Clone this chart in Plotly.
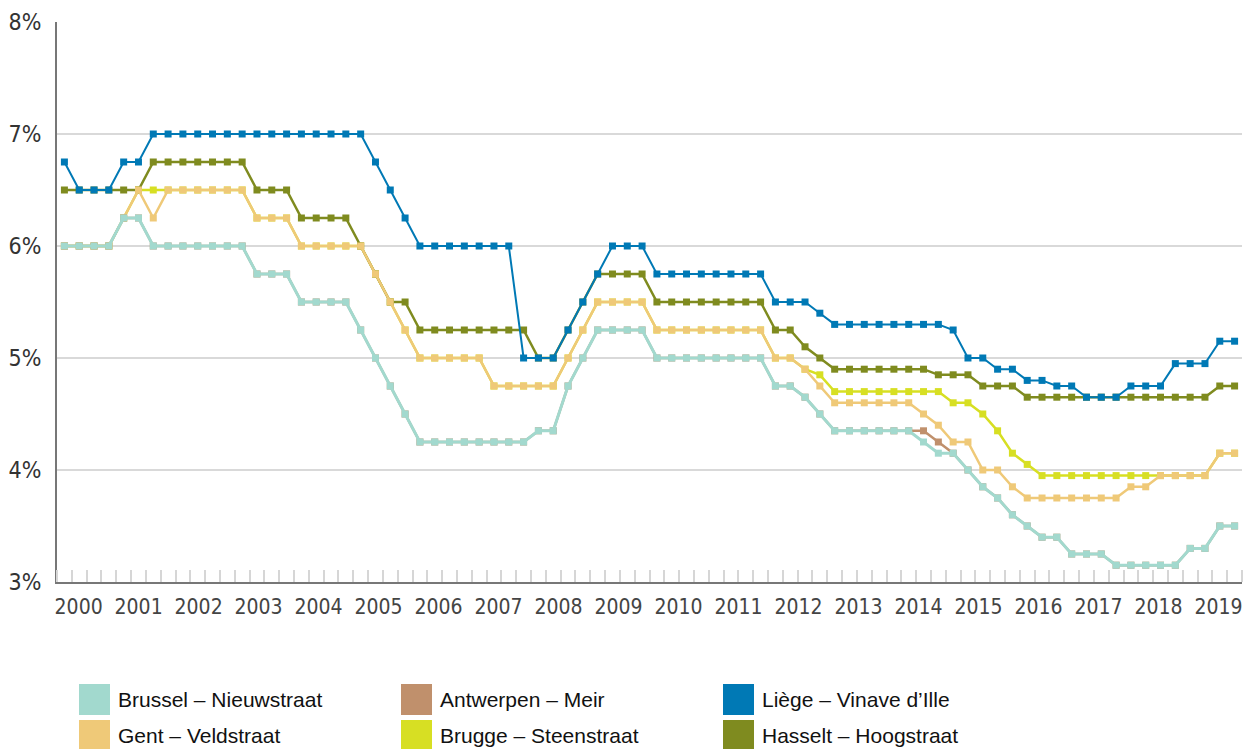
import plotly.graph_objects as go

# quarterly rents yield, 2000Q1 - 2019Q4
years = list(range(2000, 2020))
quarters = [y + q / 4 for y in years for q in range(4)]

brussel = [6.0, 6.0, 6.0, 6.0,  6.25, 6.25, 6.0, 6.0,  6.0, 6.0, 6.0, 6.0,  6.0, 5.75, 5.75, 5.75,
           5.5, 5.5, 5.5, 5.5,  5.25, 5.0, 4.75, 4.5,  4.25, 4.25, 4.25, 4.25,  4.25, 4.25, 4.25, 4.25,
           4.35, 4.35, 4.75, 5.0,  5.25, 5.25, 5.25, 5.25,  5.0, 5.0, 5.0, 5.0,  5.0, 5.0, 5.0, 5.0,
           4.75, 4.75, 4.65, 4.5,  4.35, 4.35, 4.35, 4.35,  4.35, 4.35, 4.25, 4.15,  4.15, 4.0, 3.85, 3.75,
           3.6, 3.5, 3.4, 3.4,  3.25, 3.25, 3.25, 3.15,  3.15, 3.15, 3.15, 3.15,  3.3, 3.3, 3.5, 3.5]

antwerpen = [6.0, 6.0, 6.0, 6.0,  6.25, 6.25, 6.0, 6.0,  6.0, 6.0, 6.0, 6.0,  6.0, 5.75, 5.75, 5.75,
             5.5, 5.5, 5.5, 5.5,  5.25, 5.0, 4.75, 4.5,  4.25, 4.25, 4.25, 4.25,  4.25, 4.25, 4.25, 4.25,
             4.35, 4.35, 4.75, 5.0,  5.25, 5.25, 5.25, 5.25,  5.0, 5.0, 5.0, 5.0,  5.0, 5.0, 5.0, 5.0,
             4.75, 4.75, 4.65, 4.5,  4.35, 4.35, 4.35, 4.35,  4.35, 4.35, 4.35, 4.25,  4.15, 4.0, 3.85, 3.75,
             3.6, 3.5, 3.4, 3.4,  3.25, 3.25, 3.25, 3.15,  3.15, 3.15, 3.15, 3.15,  3.3, 3.3, 3.5, 3.5]

liege = [6.75, 6.5, 6.5, 6.5,  6.75, 6.75, 7.0, 7.0,  7.0, 7.0, 7.0, 7.0,  7.0, 7.0, 7.0, 7.0,
         7.0, 7.0, 7.0, 7.0,  7.0, 6.75, 6.5, 6.25,  6.0, 6.0, 6.0, 6.0,  6.0, 6.0, 6.0, 5.0,
         5.0, 5.0, 5.25, 5.5,  5.75, 6.0, 6.0, 6.0,  5.75, 5.75, 5.75, 5.75,  5.75, 5.75, 5.75, 5.75,
         5.5, 5.5, 5.5, 5.4,  5.3, 5.3, 5.3, 5.3,  5.3, 5.3, 5.3, 5.3,  5.25, 5.0, 5.0, 4.9,
         4.9, 4.8, 4.8, 4.75,  4.75, 4.65, 4.65, 4.65,  4.75, 4.75, 4.75, 4.95,  4.95, 4.95, 5.15, 5.15]

gent = [6.0, 6.0, 6.0, 6.0,  6.25, 6.5, 6.25, 6.5,  6.5, 6.5, 6.5, 6.5,  6.5, 6.25, 6.25, 6.25,
        6.0, 6.0, 6.0, 6.0,  6.0, 5.75, 5.5, 5.25,  5.0, 5.0, 5.0, 5.0,  5.0, 4.75, 4.75, 4.75,
        4.75, 4.75, 5.0, 5.25,  5.5, 5.5, 5.5, 5.5,  5.25, 5.25, 5.25, 5.25,  5.25, 5.25, 5.25, 5.25,
        5.0, 5.0, 4.9, 4.75,  4.6, 4.6, 4.6, 4.6,  4.6, 4.6, 4.5, 4.4,  4.25, 4.25, 4.0, 4.0,
        3.85, 3.75, 3.75, 3.75,  3.75, 3.75, 3.75, 3.75,  3.85, 3.85, 3.95, 3.95,  3.95, 3.95, 4.15, 4.15]

brugge = [6.0, 6.0, 6.0, 6.0,  6.25, 6.5, 6.5, 6.5,  6.5, 6.5, 6.5, 6.5,  6.5, 6.25, 6.25, 6.25,
          6.0, 6.0, 6.0, 6.0,  6.0, 5.75, 5.5, 5.25,  5.0, 5.0, 5.0, 5.0,  5.0, 4.75, 4.75, 4.75,
          4.75, 4.75, 5.0, 5.25,  5.5, 5.5, 5.5, 5.5,  5.25, 5.25, 5.25, 5.25,  5.25, 5.25, 5.25, 5.25,
          5.0, 5.0, 4.9, 4.85,  4.7, 4.7, 4.7, 4.7,  4.7, 4.7, 4.7, 4.7,  4.6, 4.6, 4.5, 4.35,
          4.15, 4.05, 3.95, 3.95,  3.95, 3.95, 3.95, 3.95,  3.95, 3.95, 3.95, 3.95,  3.95, 3.95, 4.15, 4.15]

hasselt = [6.5, 6.5, 6.5, 6.5,  6.5, 6.5, 6.75, 6.75,  6.75, 6.75, 6.75, 6.75,  6.75, 6.5, 6.5, 6.5,
           6.25, 6.25, 6.25, 6.25,  6.0, 5.75, 5.5, 5.5,  5.25, 5.25, 5.25, 5.25,  5.25, 5.25, 5.25, 5.25,
           5.0, 5.0, 5.25, 5.5,  5.75, 5.75, 5.75, 5.75,  5.5, 5.5, 5.5, 5.5,  5.5, 5.5, 5.5, 5.5,
           5.25, 5.25, 5.1, 5.0,  4.9, 4.9, 4.9, 4.9,  4.9, 4.9, 4.9, 4.85,  4.85, 4.85, 4.75, 4.75,
           4.75, 4.65, 4.65, 4.65,  4.65, 4.65, 4.65, 4.65,  4.65, 4.65, 4.65, 4.65,  4.65, 4.65, 4.75, 4.75]

y_ticks = [3, 4, 5, 6, 7, 8]
y_labels = ["3%", "4%", "5%", "6%", "7%", "8%"]

# name, values, colour, line width (drawn bottom to top)
series = [
    ("Brugge – Steenstraat", brugge, "#d7df23", 2.5),
    ("Hasselt – Hoogstraat", hasselt, "#7f8b1f", 2.5),
    ("Gent – Veldstraat", gent, "#efc978", 2.5),
    ("Antwerpen – Meir", antwerpen, "#c0906c", 2.5),
    ("Brussel – Nieuwstraat", brussel, "#a2d9ce", 3),
    ("Liège – Vinave d’Ille", liege, "#0079b5", 2),
]
colours = {name: c for name, _, c, _ in series}
legend_rows = [
    ["Brussel – Nieuwstraat", "Antwerpen – Meir", "Liège – Vinave d’Ille"],
    ["Gent – Veldstraat", "Brugge – Steenstraat", "Hasselt – Hoogstraat"],
]

NARROW = "Liberation Sans Narrow, Arial Narrow, DejaVu Sans Condensed, sans-serif"
W, H = 1244, 749
L, R, T, B = 57, 2, 22, 167

fig = go.Figure()
for name, vals, col, lw in series:
    fig.add_trace(go.Scatter(
        x=quarters, y=vals, name=name, mode="lines+markers",
        line=dict(color=col, width=lw),
        marker=dict(symbol="square", size=7, color=col),
        showlegend=False,
    ))

# custom legend: big square swatches below the plot
pw, ph = W - L - R, H - T - B
for r, row in enumerate(legend_rows):
    for c, name in enumerate(row):
        x0 = 79 + c * 322
        y0 = 684 + r * 36
        fig.add_shape(type="rect", xref="paper", yref="paper",
                      x0=(x0 - L) / pw, x1=(x0 + 31 - L) / pw,
                      y0=(T + ph - y0) / ph, y1=(T + ph - y0 - 31) / ph,
                      fillcolor=colours[name], line_width=0)
        fig.add_annotation(xref="paper", yref="paper",
                           x=(x0 + 37 - L) / pw, y=(T + ph - y0 - 15.5) / ph,
                           text=name, showarrow=False, xanchor="left", yanchor="middle",
                           font=dict(family="Liberation Sans, Arial, sans-serif", size=21, color="#111"))

fig.update_layout(
    width=W, height=H,
    margin=dict(l=L, r=R, t=T, b=B, autoexpand=False),
    plot_bgcolor="white", paper_bgcolor="white",
)
fig.update_xaxes(
    range=[1999.875, 2019.875], automargin=False,
    tickvals=[2000.24 + k * 1.0125 for k in range(len(years))],
    ticktext=[str(y) for y in years],
    ticks="outside", ticklen=5, tickcolor="rgba(0,0,0,0)",
    tickfont=dict(family=NARROW, size=21, color="#444"),
    showgrid=False, zeroline=False,
    showline=True, linecolor="#777", linewidth=2,
    minor=dict(tick0=2000.125, dtick=0.25, ticks="inside", ticklen=12,
               tickwidth=2, tickcolor="#d6d6d6", showgrid=False),
)
fig.update_yaxes(
    range=[3, 8], automargin=False,
    tickvals=y_ticks, ticktext=y_labels,
    ticks="outside", ticklen=9, tickcolor="rgba(0,0,0,0)",
    tickfont=dict(family=NARROW, size=23, color="#333"),
    showgrid=True, gridcolor="#d9d9d9", gridwidth=1.5,
    zeroline=False, showline=True, linecolor="#777", linewidth=2,
)

# drop the default page margin so the figure fills the window
fig.write_html(
    "out.html",
    config={"displayModeBar": False},
    post_script="document.body.style.margin = '0'; document.body.style.overflow = 'hidden';",
)
